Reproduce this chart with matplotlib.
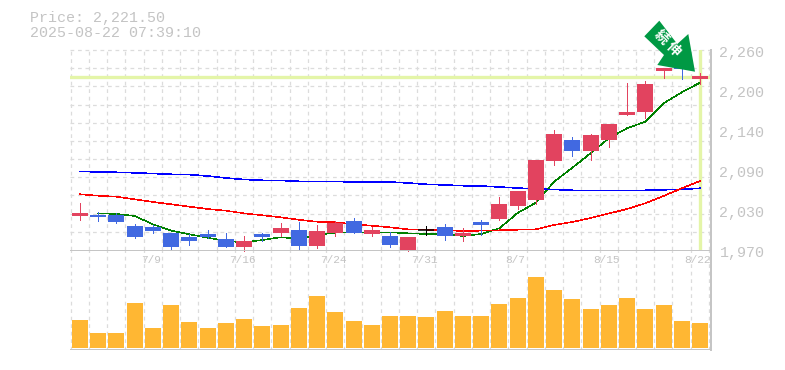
import matplotlib
matplotlib.use('Agg')
import matplotlib.pyplot as plt
from matplotlib.patches import Polygon

plt.rcParams['font.family'] = ['Liberation Mono', 'Noto Sans CJK JP', 'DejaVu Sans']

opens = [2019.7, 2020.8, 2020.8, 2004.8, 2003.4, 1994.7, 1988.9, 1993.2, 1986.0, 1974.4,
         1993.2, 1994.7, 1999.0, 1975.8, 1994.7, 2012.0, 1993.2, 1990.3, 1970.0, 1999.0,
         2003.4, 1990.3, 2010.6, 2015.0, 2033.8, 2042.5, 2099.0, 2129.5, 2113.6, 2129.5,
         2166.0, 2170.0, 2229.6, 2236.0, 2218.5]
closes = [2023.7, 2017.9, 2010.6, 1988.9, 1997.6, 1974.4, 1983.0, 1988.9, 1974.4, 1983.0,
          1988.9, 2001.9, 1975.8, 1997.6, 2009.2, 1994.7, 1999.0, 1977.3, 1988.9, 1999.0,
          1990.3, 1994.7, 2006.3, 2036.7, 2055.6, 2100.5, 2138.2, 2113.6, 2136.8, 2152.7,
          2170.0, 2210.7, 2233.9, 2233.0, 2222.0]
highs = [2038.2, 2025.0, 2023.6, 2007.7, 2006.3, 1994.7, 1993.2, 1999.0, 1994.7, 1990.3,
         1994.7, 2009.0, 2010.6, 2006.3, 2012.0, 2016.4, 2003.4, 1996.1, 1988.9, 2004.8,
         2007.7, 2001.9, 2013.5, 2046.9, 2055.6, 2100.5, 2144.0, 2133.9, 2138.2, 2152.7,
         2212.0, 2215.0, 2233.9, 2236.0, 2226.6]
lows = [2013.5, 2012.0, 2009.0, 1987.4, 1994.7, 1971.5, 1977.3, 1987.4, 1974.4, 1969.0,
        1983.0, 1990.3, 1970.0, 1972.9, 1990.3, 1994.7, 1990.3, 1974.4, 1969.0, 1991.8,
        1984.5, 1983.0, 1991.8, 2013.5, 2029.5, 2036.3, 2093.3, 2106.3, 2100.5, 2119.4,
        2166.0, 2161.4, 2219.4, 2218.0, 2210.7]

ma_short = [None, 2023.2, 2022.2, 2019.3, 2007.3, 1998.0, 1992.8, 1987.8, 1983.0, 1981.2,
            1984.5, 1988.4, 1986.4, 1991.8, 1995.1, 1995.7, 1995.7, 1995.7, 1994.2, 1993.2,
            1992.8, 1990.3, 1993.2, 2001.5, 2023.7, 2038.6, 2069.0, 2089.3, 2110.2, 2132.0,
            2146.5, 2156.0, 2182.7, 2198.7, 2212.6]
ma_mid = [2050.8, 2048.7, 2047.3, 2043.5, 2039.6, 2036.3, 2032.8, 2029.5, 2027.0, 2023.2,
          2020.3, 2017.4, 2013.9, 2011.0, 2010.2, 2007.3, 2005.2, 2002.9, 2000.0, 1999.4,
          1998.6, 1997.6, 1998.0, 1998.6, 1999.4, 2000.0, 2006.3, 2010.6, 2016.4, 2022.9,
          2029.5, 2037.7, 2048.3, 2059.5, 2070.0]
ma_long = [2084.1, 2083.1, 2082.7, 2081.9, 2080.9, 2079.8, 2079.3, 2077.3, 2074.4, 2072.2,
           2071.1, 2070.8, 2069.6, 2069.6, 2069.3, 2068.6, 2068.6, 2068.6, 2067.2, 2065.3,
           2064.3, 2063.2, 2062.8, 2061.4, 2059.9, 2058.5, 2057.7, 2056.6, 2056.6, 2056.6,
           2056.6, 2056.6, 2057.3, 2058.0, 2059.5]
volume = [28, 15, 15, 45, 20, 43, 26, 20, 25, 29, 22, 23, 40, 52, 36, 27, 23, 32,
          32, 31, 37, 32, 32, 44, 50, 71, 58, 49, 39, 43, 50, 39, 43, 27, 25]

date_pos = [4, 9, 14, 19, 24, 29, 34]
date_labels = ['7/9', '7/16', '7/24', '7/31', '8/7', '8/15', '8/22']
price_ticks = [1970, 2028, 2086, 2144, 2202, 2260]
price_labels = ['1,970', '2,030', '2,090', '2,140', '2,200', '2,260']
last_price = 2221.5

RED = '#e2435f'
BLUE = '#4169e1'
ORANGE = '#ffb733'
TEXT = '#c4c4c4'
GRID = '#dcdcdc'
HILITE = '#e4f5a8'
W, H = 785, 370
XLIM = (-0.548, 34.577)

fig = plt.figure(figsize=(W / 100, H / 100), dpi=100)


def panel(top, bottom):
    return fig.add_axes([70 / W, (H - bottom) / H, 640.5 / W, (bottom - top) / H])


ax = panel(50, 250)
ax_vol = panel(250, 350)
n = len(closes)
xs = list(range(n))

for a in (ax, ax_vol):
    a.set_xlim(*XLIM)
    a.set_xticks([])
    a.set_yticks([])
    a.patch.set_alpha(0)
    for side in a.spines:
        a.spines[side].set_visible(False)
    for k in range(36):
        a.axvline(k - 0.51, color=GRID, lw=0.9, dashes=(3, 3), zorder=0)

ax.set_ylim(1970, 2260)
for k in range(1, 11):
    ax.axhline(1970 + k * 290 / 11, color=GRID, lw=0.9, dashes=(3, 3), zorder=0)
ax.plot(XLIM, [2260, 2260], color=GRID, lw=0.9, dashes=(3, 3), zorder=0, clip_on=False)

# current price cross
ax.axhline(last_price, color=HILITE, lw=2.4, zorder=1)
ax.axvline(n - 1, color=HILITE, lw=2.4, zorder=1)

ax.plot(xs, ma_short, color='#008000', lw=0.4, zorder=2, antialiased=False)
ax.plot(xs, ma_long, color='#0000ff', lw=0.4, zorder=2, antialiased=False)
ax.plot(xs, ma_mid, color='#ff0000', lw=0.4, zorder=2, antialiased=False)

for i in xs:
    o, c = opens[i], closes[i]
    col = RED if c > o else (BLUE if c < o else 'black')
    ax.vlines(i, lows[i], highs[i], color=col, lw=0.72, zorder=3, clip_on=False, antialiased=False)
    if c == o:
        ax.hlines(c, i - 0.44, i + 0.44, color=col, lw=1.1, zorder=3)
    else:
        ax.bar(i, abs(c - o), 0.877, bottom=min(o, c), color=col, lw=0, zorder=3)

ax_vol.set_ylim(-2, 98)
ax_vol.bar(xs, volume, 0.877, color=ORANGE, lw=0, zorder=2)
ax_vol.axhline(98, color='#c4c4c4', lw=1.4, zorder=4)
ax_vol.axhline(-2, color='#c4c4c4', lw=1.4, zorder=4)

for a in (ax, ax_vol):
    a.spines['right'].set_visible(True)
    a.spines['right'].set_color('#c4c4c4')
    a.spines['right'].set_linewidth(1.4)

for i, lab in zip(date_pos, date_labels):
    ax_vol.annotate(lab, xy=(i, 98), xycoords=('data', 'data'), xytext=(-2, -10),
                    textcoords='offset pixels', ha='center', va='center',
                    fontsize=8, color=TEXT, annotation_clip=False)

for v, lab in zip(price_ticks, price_labels):
    ax.annotate(lab, xy=(1, v), xycoords=('axes fraction', 'data'), xytext=(9, -3),
                textcoords='offset pixels', ha='left', va='center',
                fontsize=10.8, color=TEXT, annotation_clip=False)

fig.text(30 / W, 1 - 18 / H, 'Price: 2,221.50', fontsize=10.8, color=TEXT, va='center')
fig.text(30 / W, 1 - 33 / H, '2025-08-22 07:39:10', fontsize=10.8, color=TEXT, va='center')

# green arrow badge, positioned in pixels
overlay = fig.add_axes([0, 0, 1, 1])
overlay.set_xlim(0, W)
overlay.set_ylim(H, 0)
overlay.axis('off')
arrow_px = [(659.3, 20.7), (644.3, 36.3), (664, 55), (657.3, 65), (695, 71.7), (688.3, 34), (677.3, 44)]
overlay.add_patch(Polygon(arrow_px, closed=True, color='#009944', lw=0))
overlay.text(661, 37, '続', color='white', fontsize=10, fontweight='bold', rotation=-45,
             ha='center', va='center', family=['Noto Sans CJK JP'])
overlay.text(673, 49, '伸', color='white', fontsize=10, fontweight='bold', rotation=-45,
             ha='center', va='center', family=['Noto Sans CJK JP'])

fig.savefig('out.png', dpi=100)
